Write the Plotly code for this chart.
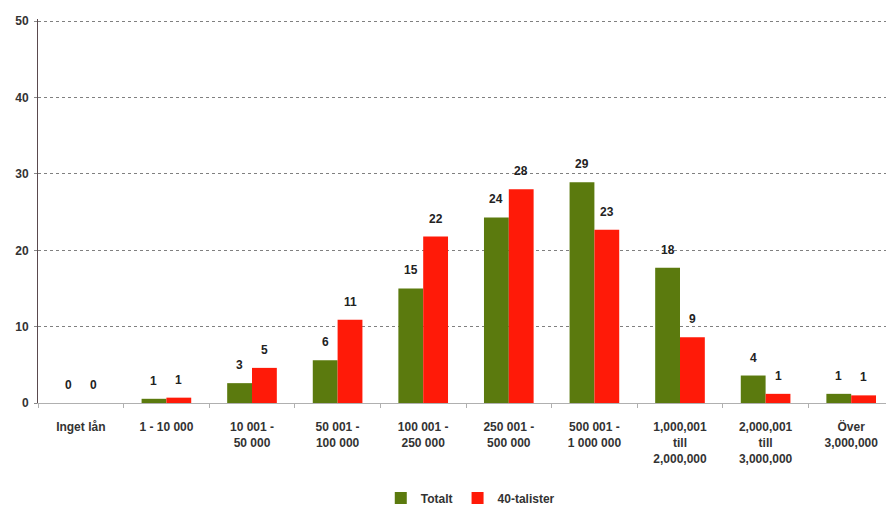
import plotly.graph_objects as go

categories = [
    "Inget lån", "1 - 10 000", "10 001 -<br>50 000", "50 001 -<br>100 000",
    "100 001 -<br>250 000", "250 001 -<br>500 000", "500 001 -<br>1 000 000",
    "1,000,001<br>till<br>2,000,000", "2,000,001<br>till<br>3,000,000", "Över<br>3,000,000",
]
totalt = [0, 0.55, 2.6, 5.6, 15.0, 24.3, 28.9, 17.7, 3.6, 1.2]
fyrtiotalister = [0, 0.7, 4.6, 10.9, 21.8, 28.0, 22.7, 8.6, 1.2, 1.0]
y_ticks = [0, 10, 20, 30, 40, 50]

font_family = "Arial, Liberation Sans, sans-serif"
# the page body has an 8px default margin, so the figure is sized to fit the window
W, H = 886, 499
M_L, M_R, M_T, M_B = 30, 0, 11, 104
BARGAP = 0.42

fig = go.Figure()
fig.add_trace(go.Bar(name="Totalt", x=categories, y=totalt, marker_color="#5b7a0e",
                     marker_line_width=0))
fig.add_trace(go.Bar(name="40-talister", x=categories, y=fyrtiotalister, marker_color="#ff1a08",
                     marker_line_width=0))

# data labels as annotations, offset to sit above each bar of the group
cat_w = (W - M_L - M_R) / len(categories)
bar_w = cat_w * (1 - BARGAP) / 2
for series, sign in ((totalt, -1), (fyrtiotalister, 1)):
    for c, v in zip(categories, series):
        fig.add_annotation(
            x=c, y=v, text=f"{round(v + 1e-9):.0f}", showarrow=False,
            xshift=sign * bar_w / 2, yshift=9, yanchor="bottom",
            font=dict(family=font_family, size=12, color="#222222", weight="bold"),
        )

fig.update_layout(
    width=W, height=H,
    margin=dict(l=M_L, r=M_R, t=M_T, b=M_B),
    paper_bgcolor="white", plot_bgcolor="white",
    barmode="group", bargap=BARGAP, bargroupgap=0,
    font=dict(family=font_family, size=12, color="#333333", weight="bold"),
    showlegend=True,
    legend=dict(orientation="h", x=0.505, xanchor="center",
                yref="container", y=0.018, yanchor="middle",
                font=dict(size=12, weight="bold"), itemwidth=30, tracegroupgap=0),
    xaxis=dict(
        automargin=False,
        showline=True, linecolor="#b0b0b0", linewidth=1,
        ticks="outside", tickson="boundaries", ticklen=4, tickcolor="#b0b0b0",
        ticklabelstandoff=13,
        tickfont=dict(size=12, weight="bold", color="#333333"),
        showgrid=False,
    ),
    yaxis=dict(
        automargin=False,
        range=[0, 50.3], tickvals=y_ticks,
        showline=True, linecolor="#5a4a4e", linewidth=1,
        showgrid=True, gridcolor="#808080", griddash="dot", gridwidth=1,
        zeroline=False,
        ticks="outside", ticklen=3, tickcolor="#888888",
        ticklabelstandoff=3,
        tickfont=dict(size=12, weight="bold", color="#333333"),
    ),
)

fig.write_html("out.html")
